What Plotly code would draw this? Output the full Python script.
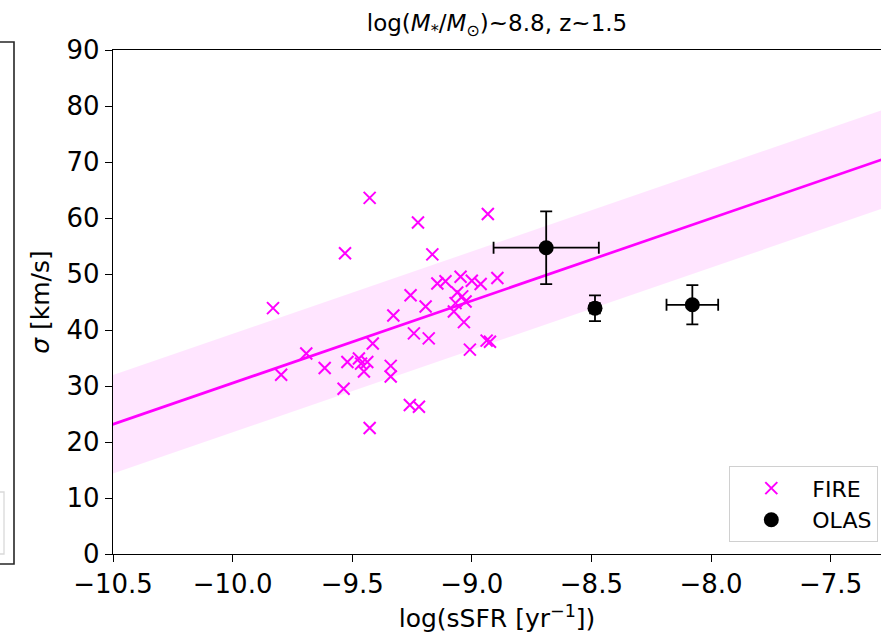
import plotly.graph_objects as go

# FIRE simulation points
fire_x = [-9.427, -9.225, -8.933, -9.530, -9.165, -9.831, -8.893, -9.144, -9.110, -9.047,
          -9.000, -8.963, -9.061, -9.040, -9.256, -9.068, -9.026, -9.193, -9.075, -9.328,
          -9.033, -9.242, -9.180, -9.008, -8.938, -8.924, -9.414, -9.692, -9.797, -9.615,
          -9.520, -9.472, -9.463, -9.437, -9.451, -9.339, -9.339, -9.536, -9.259, -9.221,
          -9.427]
fire_y = [63.6, 59.2, 60.7, 53.7, 53.5, 43.9, 49.3, 48.3, 48.7, 49.5,
          48.8, 48.2, 46.7, 46.0, 46.2, 44.8, 45.1, 44.2, 43.3, 42.6,
          41.4, 39.4, 38.5, 36.5, 38.1, 37.9, 37.6, 35.8, 32.0, 33.2,
          34.3, 34.9, 34.0, 34.3, 32.6, 33.6, 31.7, 29.5, 26.6, 26.3,
          22.5]

# OLAS observations
olas_x = [-8.689, -8.485, -8.078]
olas_y = [54.7, 43.9, 44.5]
olas_xerr = [0.22, 0.02, 0.108]
olas_yerr = [6.5, 2.3, 3.5]

# Fit line and scatter band
fit_x = [-10.6, -7.2]
fit_y = [21.7, 71.7]
band_half = 8.8

x_ticks = [-10.5, -10.0, -9.5, -9.0, -8.5, -8.0, -7.5]
y_ticks = [0, 10, 20, 30, 40, 50, 60, 70, 80, 90]

MAG = "#FF00FF"
FONT = "DejaVu Sans"

fig = go.Figure()

fig.add_trace(go.Scatter(x=fit_x, y=[v - band_half for v in fit_y], mode="lines",
                         line=dict(width=0), showlegend=False, hoverinfo="skip"))
fig.add_trace(go.Scatter(x=fit_x, y=[v + band_half for v in fit_y], mode="lines",
                         line=dict(width=0), fill="tonexty",
                         fillcolor="rgba(255,0,255,0.1)", showlegend=False, hoverinfo="skip"))
fig.add_trace(go.Scatter(x=fit_x, y=fit_y, mode="lines",
                         line=dict(color=MAG, width=2.7), showlegend=False))

fig.add_trace(go.Scatter(x=fire_x, y=fire_y, mode="markers", name="FIRE",
                         marker=dict(symbol="x-thin", size=12, color=MAG,
                                     line=dict(color=MAG, width=2))))

fig.add_trace(go.Scatter(x=olas_x, y=olas_y, mode="markers", name="OLAS",
                         marker=dict(symbol="circle", size=15, color="black"),
                         error_x=dict(type="data", array=olas_xerr, color="black",
                                      thickness=1.8, width=6),
                         error_y=dict(type="data", array=olas_yerr, color="black",
                                      thickness=1.8, width=6)))

W, H = 881, 638
L, R, T, B = 113, 0, 50, 84
pw = W - L - R
ph = H - T - B
xpix = 239.2
xmin = -10.5
xmax = xmin + pw / xpix

def px_x(p):
    return (p - L) / pw

def px_y(p):
    return (H - B - p) / ph

shapes = [
    dict(type="rect", xref="paper", yref="paper",
         x0=px_x(-40), x1=px_x(14), y0=px_y(564), y1=px_y(42),
         line=dict(color="#262626", width=1.6), fillcolor="rgba(0,0,0,0)", layer="above"),
    dict(type="rect", xref="paper", yref="paper",
         x0=px_x(-40), x1=px_x(4), y0=px_y(554), y1=px_y(492),
         line=dict(color="#d9d9d9", width=1.3), fillcolor="rgba(0,0,0,0)", layer="above"),
]

fig.update_layout(
    width=W, height=H,
    margin=dict(l=L, r=R, t=T, b=B),
    plot_bgcolor="white", paper_bgcolor="white",
    font=dict(family=FONT, color="black", size=26),
    title=dict(text="log(<i>M</i><sub>*</sub>/<i>M</i><sub>⊙</sub>)~8.8, z~1.5",
               font=dict(family=FONT, size=23, color="black"),
               xref="paper", x=0.5, xanchor="center",
               yref="container", y=1 - 23 / H, yanchor="middle"),
    xaxis=dict(range=[xmin, xmax], tickvals=x_ticks,
               ticktext=[("−" + f"{abs(v):.1f}") for v in x_ticks],
               showline=True, linecolor="black", linewidth=1.4, mirror=True,
               ticks="outside", ticklen=7, tickwidth=1.4, tickcolor="black",
               showgrid=False, zeroline=False,
               tickfont=dict(family=FONT, size=26),
               title=dict(text="log(sSFR [yr<sup>−1</sup>])", standoff=11,
                          font=dict(family=FONT, size=25))),
    yaxis=dict(range=[0, 90], tickvals=y_ticks,
               showline=True, linecolor="black", linewidth=1.4, mirror=False,
               ticks="outside", ticklen=7, tickwidth=1.4, tickcolor="black",
               showgrid=False, zeroline=False,
               tickfont=dict(family=FONT, size=26),
               title=dict(text="<i>σ</i> [km/s]", standoff=9,
                          font=dict(family=FONT, size=25))),
    legend=dict(x=px_x(878), xanchor="right", y=px_y(542), yanchor="bottom",
                bordercolor="#d0d0d0", borderwidth=1.3, bgcolor="white",
                font=dict(family=FONT, size=22), itemwidth=72,
                traceorder="normal", tracegroupgap=4),
    shapes=shapes,
)

fig.write_html("out.html")
